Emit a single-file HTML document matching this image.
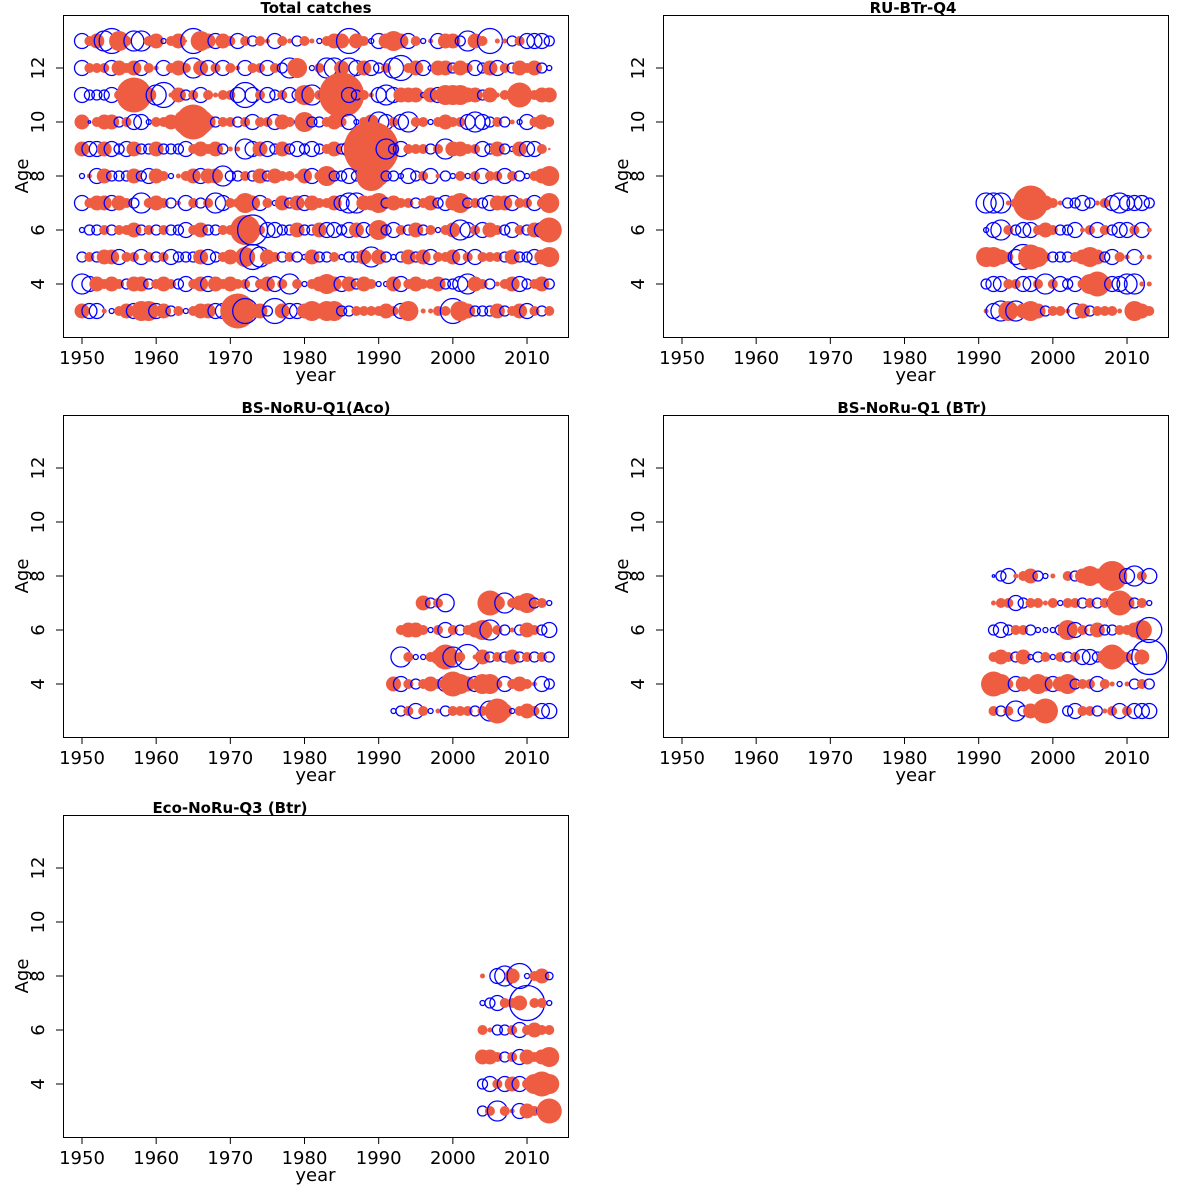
<!DOCTYPE html>
<html><head><meta charset="utf-8"><style>
body{margin:0;background:#fff}
svg{display:block;font-family:"DejaVu Sans","Liberation Sans",sans-serif}
</style></head><body>
<svg id="chart" width="1200" height="1200" xmlns="http://www.w3.org/2000/svg"></svg>
<script>
// Panel 1: Total catches, years 1950-2013, ages 13..3
const totalYears0 = 1950;
const totalAge13 = [-3,2,3,-4,-5,4,2,-4, -4,2,3,-1,2,3,0.5,-5, 4,3,-3,3,2,-3,2,-2, 2,1,-3,2,1,-2,2,1, -1,2,3,3,-5,3,2,-1, -3,3,4,3,-3,2,-1,1, -3,3,3,-2,-4,3,2,-5, 1,1,-2,2,-3,-3,-3,-2];
const totalAge12 = [-3,2,2,2,-3,3,2,3, -3,2,1,-3,2,3,2,-4, 3,-3,2,-3,2,1,-3,2, 2,-3,2,-2,-4,4,1,-1, 2,-4,-4,3,-4,-3,3,-3, -2,2,-4,-5,2,3,-3,-1, 3,3,-2,3,2,-3,-2,3, -3,2,-2,3,2,3,-2,-1];
const totalAge11 = [-3,-2,-2,-2,-3,2,4,7, 4,3,-4,-5,1,3,-2,2, -3,2,1,2,2,-3,-5,-3, 2,-3,-2,2,-3,-2,4,-4, 2,-3,4,9,-3,-2,2,1, -3,-4,-3,3,3,3,-1,3, -3,4,4,4,3,3,-2,3, 1,2,2,5,2,2,3,3];
const totalAge10 = [3,-0.5,2,3,3,-2,2,-3, -3,-1,2,2,3,2,5,7, 5,3,-2,2,2,-2,2,-3, 2,2,-3,3,2,-1,4,-2, -2,2,3,2,-3,-1,2,3, -4,-3,2,-3,-4,2,2,-1, 2,3,2,2,-3,-4,-3,-2, 2,-2,1,-1,-3,2,3,2];
const totalAge9 = [3,-3,-3,3,-3,-2,-3,3, -2,-2,3,-2,-2,-2,-3,2, 3,2,3,-2,1,1,-4,-3, 3,-3,-2,3,-2,-3,-2,-3, -2,2,3,-2,-3,-2,-3,11, 8,-4,-2,-3,2,2,2,-2, 2,-4,3,3,2,2,-3,-2, 3,-2,-1,3,-3,-3,2,0.5];
const totalAge8 = [-1,1,-3,3,-2,-2,-2,3, -2,-3,3,2,-1,1,2,3, -3,3,3,-4,-2,-2,2,-2, 3,-2,3,2,2,1,3,-3, 2,4,-2,-2,-3,-2,-1,6, 4,-2,-2,-1,-3,-2,2,-3, 1,-2,-1,2,-1,2,-3,2, 2,-3,2,-2,-1,2,3,4];
const totalAge7 = [-3,2,3,3,-3,3,2,-2, -4,2,3,2,-2,1,-3,2, -2,2,-4,-3,2,2,4,3, -3,2,-1,3,-2,3,-3,3, 2,2,3,-3,-4,-4,3,3, 4,-2,3,2,2,-2,2,3, -2,-3,3,4,-2,2,-2,-3, 3,3,-3,2,2,-3,2,4];
const totalAge6 = [-1,-2,-2,2,-2,2,2,3, -2,2,-2,2,-2,-2,-3,2, 3,-2,-2,2,2,3,6,-6, 2,-3,-3,-2,-2,3,-2,-2, 3,-3,-3,-2,-3,3,-3,-2, 4,-2,-3,2,-2,3,-2,2, -1,2,3,-4,-3,2,-3,3, 2,-2,-3,2,-2,3,-3,5];
const totalAge5 = [-2,2,-2,3,3,-3,2,2, -3,2,-2,2,-3,-2,-2,-2, 3,-3,-2,2,3,2,4,-5, -4,3,2,-2,2,-2,-1,3, -2,-2,2,-1,-2,-2,3,-4, 3,-2,-1,-2,3,-2,3,-3, 2,2,3,-3,2,-3,2,2, 2,-2,3,-2,-2,-3,3,4];
const totalAge4 = [-4,-3,3,2,3,2,-2,3, 3,-2,2,3,2,-2,-3,2, 3,-3,3,2,3,2,2,-3, 2,3,-3,2,-4,2,-1,2, 3,4,3,-3,3,-2,3,2, -1,-1,3,-3,2,3,2,2, 3,-2,-2,-3,-4,3,2,-2, 1,2,3,-3,-2,2,3,-2];
const totalAge3 = [3,-3,-3,1,-1,2,3,-3, 4,4,-3,3,-2,2,-1,2, 3,3,-3,-3,3,7,-5,3, 3,-2,-5,3,-3,-3,3,4, 3,4,4,-2,-2,2,2,2, 2,3,2,-3,4,1,1,1, 2,2,-5,4,3,-2,-2,-2, 3,-2,2,3,-3,2,-2,2];
// Panel 2: RU-BTr-Q4, years 1991-2013
const ruYears0 = 1991;
const ruAge7 = [-4,-4,-4,1,2,-2.5,7,4,3,2,1,-2,-2,-3,-2,1,2,-3,-4,-3,-3,-3,-2];
const ruAge6 = [-1,-3,-4,2,-2,-3,-3,2,3,2,-2,-2,-3,1,2,-3,2,-2,-3,-3,2,-3,1];
const ruAge5 = [4,4,3,2,-3,-5,5,4,2,-2,-2,-2,2,3,4,3,-2,-3,2,1,-3,1,1];
const ruAge4 = [-2,-3,-3,2,2,-3,-3,2,-4,2,-3,-2,-3,2,4,5,3,-3,-3,-4,-4,1,1];
const ruAge3 = [1,-3,-4,4,-4,3,4,3,-2,2,2,1,-3,3,-2,2,2,2,1,1,4,3,2];
// Panel 3: BS-NoRU-Q1(Aco), years 1992-2013
const acoYears0 = 1992;
const acoAge7 = [0,0,0,0,3,-2,2,-3.5,0,0,0,0,1,5,3,-4,2,3,4,-2,2,-1];
const acoAge6 = [0,2,3,3,2,-1,2,-3,2,-2,2,3,4,-4,2,-2,1,-2,3,2,-2,-3];
const acoAge5 = [0,-4,2,-1,-1,2,3,5,-4,2,-5,1,3,-2,2,-2,3,-2,2,-2,2,-2];
const acoAge4 = [3,-3,2,-2,2,3,2,-3,5,4,3,-3,4,4,2,-3,2,3,2,1,-3,-2];
const acoAge3 = [-1,-2,2,-3,2,-1,1,-2,2,2,2,-2,2,-4,5,3,-1,2,3,2,-3,-3];
// Panel 4: BS-NoRu-Q1 (BTr), years 1992-2013
const btrYears0 = 1992;
const btrAge8 = [-0.5,-2,-3,1,2,3,-2,-1,1,0,2,-2,3,4,3,2,6,3,-3,-4,2,-3];
const btrAge7 = [1,2,2,-3,-2,2,2,1,2,-1,2,2,-2,2,-2,2,-2,5,3,-2,2,-1];
const btrAge6 = [-2,-3,-2,2,2,-2,-1,-1,-1,-2,4,-3,2,-2,3,-2,-2,2,2,3,4,-5];
const btrAge5 = [2,3,2,-2,3,-1,-2,2,-1,2,-2,2,-3,-3,-2,3,5,3,2,-3,3,-7];
const btrAge4 = [5,4,2,-3,3,2,4,3,-3,3,4,-2,2,2,-3,2,1,-1,1,-2,2,-2];
const btrAge3 = [2,-2,2,-4,-2,3,2,5,2,0,-2,-3,2,2,-2,1,2,-3,2,-3,-3,-3];
// Panel 5: Eco-NoRu-Q3 (Btr), years 2004-2013
const ecoYears0 = 2004;
const ecoAge8 = [1,0,-3,-4,3,-5,-1,2,3,-1.5];
const ecoAge7 = [-1,-2,-3,2,2,3,-7,2,2,-1];
const ecoAge6 = [2,1,-2,-2,2,-3,2,3,2,2];
const ecoAge5 = [3,3,2,-2,2,-3,3,2,3,4];
const ecoAge4 = [-2,-3,2,-3,3,-3,2,4,5,4];
const ecoAge3 = [-2,2,-4,2,1,-3,3,2,-2,5];

const xTicks = [1950,1960,1970,1980,1990,2000,2010];
const yTicks = [4,6,8,10,12];

const panels = [
  {name:'total-catches', title:'Total catches', tx:316, ox:0, oy:0, y0:totalYears0,
   rows:[[13,totalAge13],[12,totalAge12],[11,totalAge11],[10,totalAge10],[9,totalAge9],[8,totalAge8],[7,totalAge7],[6,totalAge6],[5,totalAge5],[4,totalAge4],[3,totalAge3]]},
  {name:'ru-btr-q4', title:'RU-BTr-Q4', tx:913, ox:600, oy:0, y0:ruYears0,
   rows:[[7,ruAge7],[6,ruAge6],[5,ruAge5],[4,ruAge4],[3,ruAge3]]},
  {name:'bs-noru-q1-aco', title:'BS-NoRU-Q1(Aco)', tx:316, ox:0, oy:400, y0:acoYears0,
   rows:[[7,acoAge7],[6,acoAge6],[5,acoAge5],[4,acoAge4],[3,acoAge3]]},
  {name:'bs-noru-q1-btr', title:'BS-NoRu-Q1 (BTr)', tx:912, ox:600, oy:400, y0:btrYears0,
   rows:[[8,btrAge8],[7,btrAge7],[6,btrAge6],[5,btrAge5],[4,btrAge4],[3,btrAge3]]},
  {name:'eco-noru-q3-btr', title:'Eco-NoRu-Q3 (Btr)', tx:230, ox:0, oy:800, y0:ecoYears0,
   rows:[[8,ecoAge8],[7,ecoAge7],[6,ecoAge6],[5,ecoAge5],[4,ecoAge4],[3,ecoAge3]]}
];

const NS='http://www.w3.org/2000/svg';
const svg=document.getElementById('chart');
function mk(tag,attrs,parent,text){const e=document.createElementNS(NS,tag);for(const k in attrs)e.setAttribute(k,attrs[k]);if(text!==undefined)e.textContent=text;parent.appendChild(e);return e;}

panels.forEach(p=>{
  const g=mk('g',{},svg);
  
  
  const L=63+p.ox,R=568+p.ox,T=15+p.oy,B=337+p.oy;
  const xs=yr=>82+p.ox+(yr-1950)*7.417;
  const ys=a=>284+p.oy-(a-4)*27;
  const box=mk('rect',{x:L+0.5,y:T+0.5,width:R-L,height:B-T,fill:'none',stroke:'#000','stroke-width':1},g);
  
  
  const t=mk('text',{x:p.tx+p.ox*0,y:T-2,'text-anchor':'middle','font-size':15,'font-weight':'bold'},g,p.title);
  t.setAttribute('x', p.tx);
  
  
  // bubbles
  const bg=mk('g',{},g);
  
  
  p.rows.forEach(([age,vals])=>{
    vals.forEach((v,i)=>{
      if(v===0)return;
      const r=2.5*Math.abs(v);
      const c=mk('circle',{cx:xs(p.y0+i),cy:ys(age),r:r},bg);
      if(v>0){c.setAttribute('fill','#EE5C42');c.setAttribute('stroke','none');}
      else{c.setAttribute('fill','none');c.setAttribute('stroke','#0000FF');c.setAttribute('stroke-width','1.3');}
      
      
    });
  });
  // x axis
  const xa=mk('g',{},g);
  
  
  mk('line',{x1:xs(xTicks[0]),x2:xs(xTicks[xTicks.length-1]),y1:B+0.5,y2:B+0.5,stroke:'#000'},xa);
  xTicks.forEach(v=>{
    mk('line',{x1:xs(v),x2:xs(v),y1:B,y2:B+7,stroke:'#000'},xa);
    const tl=mk('text',{x:xs(v),y:B+27,'text-anchor':'middle','font-size':18},xa,String(v));
    
    
  });
  const xt=mk('text',{x:(L+R)/2,y:B+44,'text-anchor':'middle','font-size':18},xa,'year');
  
  
  // y axis
  const ya=mk('g',{},g);
  
  
  mk('line',{x1:L+0.5,x2:L+0.5,y1:ys(yTicks[0]),y2:ys(yTicks[yTicks.length-1]),stroke:'#000'},ya);
  yTicks.forEach(v=>{
    mk('line',{x1:L-7,x2:L,y1:ys(v),y2:ys(v),stroke:'#000'},ya);
    const yl=mk('text',{x:L-19,y:ys(v),'text-anchor':'middle','font-size':18,transform:`rotate(-90 ${L-19} ${ys(v)})`},ya,String(v));
    
    
  });
  const yt=mk('text',{x:L-35,y:(T+B)/2,'text-anchor':'middle','font-size':18,transform:`rotate(-90 ${L-35} ${(T+B)/2})`},ya,'Age');
  
  
});
</script>
</body></html>
